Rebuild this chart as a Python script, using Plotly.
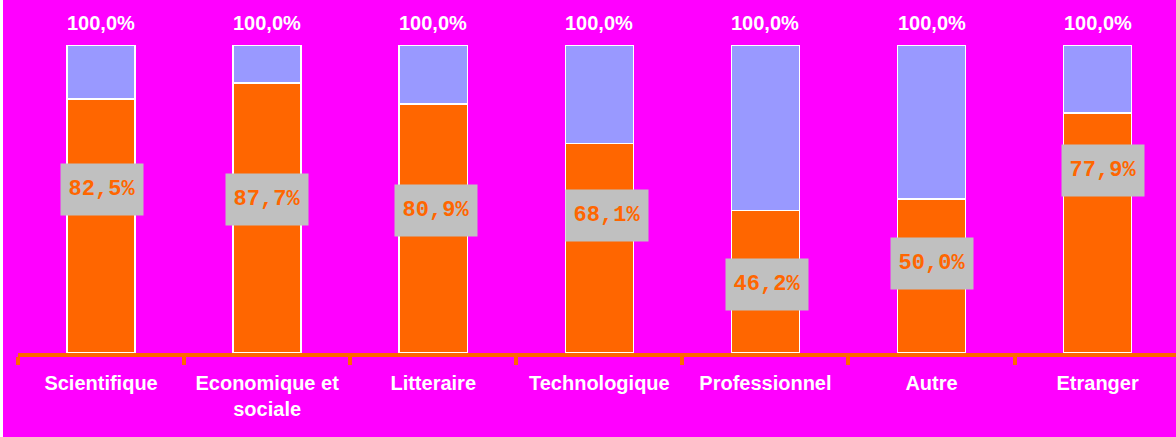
import plotly.graph_objects as go

categories = ["Scientifique", "Economique et<br>sociale", "Litteraire", "Technologique",
              "Professionnel", "Autre", "Etranger"]
values = [82.5, 87.7, 80.9, 68.1, 46.2, 50.0, 77.9]
totals = [100.0, 100.0, 100.0, 100.0, 100.0, 100.0, 100.0]
value_labels = ["82,5%", "87,7%", "80,9%", "68,1%", "46,2%", "50,0%", "77,9%"]
total_labels = ["100,0%"] * 7

# label placement (positions only)
label_y = [53.2, 50.0, 46.4, 44.8, 22.1, 28.9, 59.4]
label_dx = [0.006, 0.0, 0.016, 0.045, 0.012, 0.0, 0.033]

MAGENTA = "#FF00FF"
ORANGE = "#FF6600"
LAVENDER = "#9999FF"
GRAY = "#C0C0C0"

rest = [t - v for t, v in zip(totals, values)]
xs = list(range(len(categories)))

fig = go.Figure()
fig.add_bar(x=categories, y=values, marker=dict(color=ORANGE, line=dict(color="white", width=1.5)),
            width=0.41, hoverinfo="skip")
fig.add_bar(x=categories, y=rest, marker=dict(color=LAVENDER, line=dict(color="white", width=1.5)),
            width=0.41, hoverinfo="skip")

ann = []
for i in xs:
    ann.append(dict(x=i, y=totals[i], xref="x", yref="y", text=f"<b>{total_labels[i]}</b>",
                    showarrow=False, yanchor="middle", yshift=22,
                    font=dict(family="Liberation Sans, Arial", size=20, color="white")))
    ann.append(dict(x=i + label_dx[i], y=label_y[i], xref="x", yref="y",
                    text=f"<b>{value_labels[i]}</b>", showarrow=False,
                    yanchor="middle", xanchor="center",
                    width=70, height=39, borderpad=6, bgcolor=GRAY,
                    font=dict(family="Liberation Mono, Courier New", size=22, color=ORANGE)))

fig.update_layout(
    barmode="stack",
    width=1176, height=437,
    margin=dict(l=18, r=0, t=45, b=84),
    paper_bgcolor=MAGENTA, plot_bgcolor=MAGENTA,
    showlegend=False,
    annotations=ann,
    shapes=[dict(type="rect", xref="paper", yref="paper", x0=-18/1158, x1=-15/1158,
                 y0=-0.3, y1=1.2, fillcolor="white", line=dict(width=0), layer="above")],
    xaxis=dict(type="category", range=[-0.5, 6.472],
               tickmode="array", tickvals=categories,
               ticktext=[f"<b>{c}</b>".replace("<br>", "</b><br><b>") for c in categories],
               showgrid=False, zeroline=False, showline=True, linecolor=ORANGE, linewidth=4,
               ticks="outside", tickson="boundaries", ticklen=8, tickwidth=4, tickcolor=ORANGE,
               ticklabelstandoff=9,
               tickfont=dict(family="Liberation Sans, Arial", size=20, color="white"),
               fixedrange=True),
    yaxis=dict(range=[0, 100], visible=False, fixedrange=True),
)

fig.write_html("out.html", config={"displayModeBar": False},
               post_script="document.body.style.margin='0';")
